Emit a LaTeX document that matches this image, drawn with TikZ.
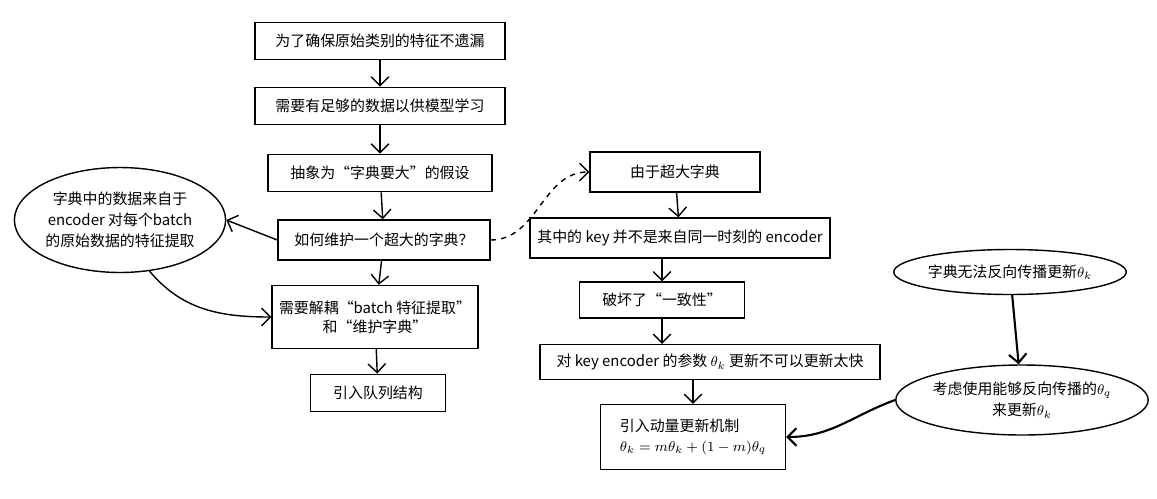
\documentclass[tikz,border=0pt]{standalone}
\usepackage{fontspec}
\setmainfont{Noto Sans CJK SC}
\usetikzlibrary{shapes.geometric,arrows.meta}
\tikzset{
  box/.style={draw, thick, minimum height=0.75cm, inner xsep=4pt, font=\fontsize{8.5}{11}\selectfont},
  oval/.style={draw, thick, ellipse, align=center, inner sep=0pt, font=\fontsize{8.5}{12}\selectfont},
  arr/.style={->, thick, >={Straight Barb[length=5pt]}}
}
\begin{document}
\begin{tikzpicture}[x=0.02cm, y=-0.02cm]
  \useasboundingbox (0,0) rectangle (1157,498);
  % left column
  \node[box, minimum width=5cm] (keep) at (380,41) {为了确保原始类别的特征不遗漏};
  \node[box, minimum width=5cm] (data) at (380,106) {需要有足够的数据以供模型学习};
  \node[box, minimum width=4.48cm] (big) at (380,173) {抽象为“字典要大”的假设};
  \node[box, minimum width=4.24cm, minimum height=0.8cm] (keepdict) at (384,240) {如何维护一个超大的字典？};
  \node[box, minimum width=4cm, minimum height=1.26cm, align=center] (decouple) at (375,317) {需要解耦“batch 特征提取”\\和“维护字典”};
  \node[box, minimum width=2.7cm] (queue) at (378,393) {引入队列结构};
  \node[oval, minimum width=3.5cm, minimum height=2.1cm] (enc) at (120,220) {字典中的数据来自于\\encoder 对每个batch\\的原始数据的特征提取};
  % right column
  \node[box, minimum width=3.4cm, minimum height=0.8cm] (huge) at (675,172) {由于超大字典};
  \node[box, minimum width=6cm, minimum height=0.8cm] (key) at (680,238) {其中的 key 并不是来自同一时刻的 encoder};
  \node[box, minimum width=3.3cm, minimum height=0.72cm] (break) at (662,300) {破坏了“一致性”};
  \node[box, minimum width=6.8cm, minimum height=0.7cm] (slow) at (710,362) {对 key encoder 的参数 $\theta_k$ 更新不可以更新太快};
  \node[box, minimum width=3.7cm, minimum height=1.3cm, align=left] (momentum) at (693,437) {引入动量更新机制\\$\theta_k = m\theta_k + (1-m)\theta_q$};
  % far right
  \node[oval, minimum width=3.8cm, minimum height=0.9cm] (noback) at (1010,272) {字典无法反向传播更新$\theta_k$};
  \node[oval, minimum width=4.4cm, minimum height=1.4cm] (useq) at (1022,400) {考虑使用能够反向传播的$\theta_q$\\来更新$\theta_k$};
  % connectors
  \draw[arr] (keep) -- (data);
  \draw[arr] (data) -- (big);
  \draw[arr] (big) -- (keepdict);
  \draw[arr] (keepdict) -- (decouple);
  \draw[arr] (decouple) -- (queue);
  \draw[arr] (keepdict.west) -- (enc.east);
  \draw[arr] (enc.-60) to[out=-50, in=180] (decouple.west);
  \draw[arr, dashed] (keepdict.east) to[out=0, in=180] (huge.west);
  \draw[arr] (huge) -- (key);
  \draw[arr] (key.south -| break) -- (break);
  \draw[arr] (break) -- (slow.north -| break);
  \draw[arr] (slow.south -| momentum) -- (momentum);
  \draw[arr, very thick] (noback) -- (useq);
  \draw[arr, very thick] (useq.west) to[out=200, in=0] (momentum.east);
\end{tikzpicture}
\end{document}
